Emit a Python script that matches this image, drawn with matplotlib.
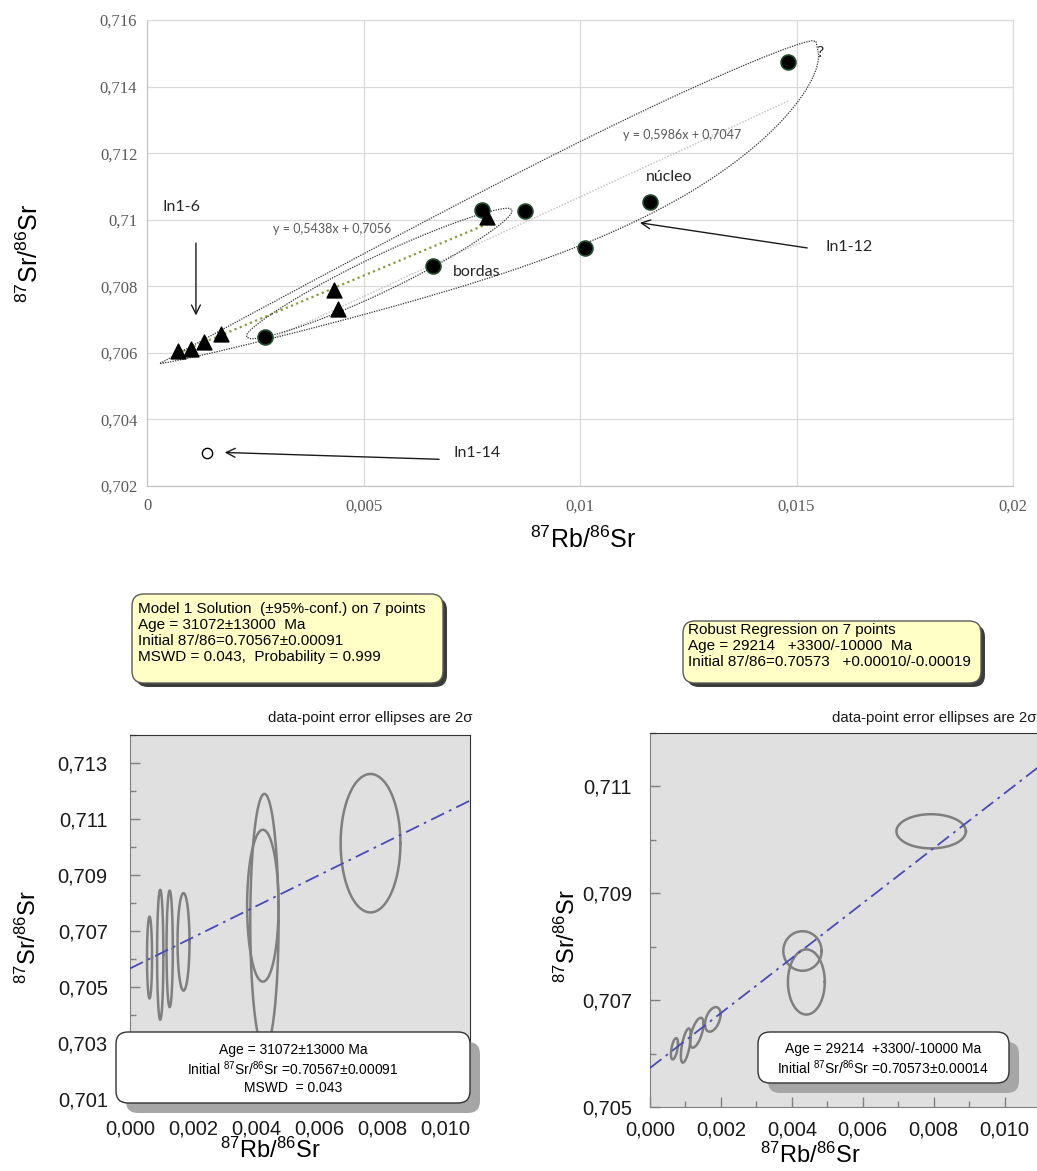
import numpy as np
import matplotlib.pyplot as plt
from matplotlib.patches import FancyBboxPatch
from matplotlib.ticker import MultipleLocator, FuncFormatter

plt.rcParams['font.family'] = ['Liberation Sans', 'DejaVu Sans']
plt.rcParams['mathtext.fontset'] = 'custom'
plt.rcParams['mathtext.rm'] = 'Liberation Sans'
plt.rcParams['mathtext.it'] = 'Liberation Sans:italic'

# ---- top chart data (Excel scatter) ----
circ_x = [0.00272, 0.00661, 0.00773, 0.00873, 0.01011, 0.01162, 0.01481]
circ_y = [0.70648, 0.70860, 0.71029, 0.71026, 0.70916, 0.71054, 0.71475]
tri_x = [0.00072, 0.00102, 0.00132, 0.00170, 0.00433, 0.00442, 0.00785]
tri_y = [0.70605, 0.70613, 0.70633, 0.70658, 0.70788, 0.70733, 0.71008]
open_x = [0.00139]
open_y = [0.70299]
trend_tri = (0.5438, 0.7056)
trend_circ = (0.5986, 0.7047)

# ---- isoplot model 1 (left) ----
m1_x = [0.00062, 0.00096, 0.00126, 0.00170, 0.00427, 0.00422, 0.00764]
m1_y = [0.70606, 0.70616, 0.70637, 0.70662, 0.70735, 0.70791, 0.71014]
m1_sx = [0.00008, 0.00010, 0.00010, 0.00019, 0.00045, 0.00050, 0.00095]
m1_sy = [0.00146, 0.00232, 0.00208, 0.00174, 0.00455, 0.00271, 0.00247]
m1_line = (0.5546, 0.70567)

# ---- isoplot robust regression (right) ----
m2_x = [0.00069, 0.00101, 0.00132, 0.00177, 0.00430, 0.00441, 0.00793]
m2_y = [0.70609, 0.70615, 0.70639, 0.70664, 0.70792, 0.70734, 0.71016]
m2_sx = [0.00010, 0.00014, 0.00019, 0.00022, 0.00054, 0.00052, 0.00098]
m2_sy = [0.00020, 0.00032, 0.00028, 0.00023, 0.00037, 0.00061, 0.00032]
m2_rho = [0.5, 0.6, 0.6, 0.4, 0.0, 0.0, 0.0]
m2_line = (0.5141, 0.70573)

W, H = 1037, 1171
fig = plt.figure(figsize=(W / 100, H / 100), dpi=100)


def pos(l, t, r, b):
    return [l / W, 1 - b / H, (r - l) / W, (b - t) / H]


def comma(fmt):
    return FuncFormatter(lambda v, p: (fmt % v).replace('.', ','))


def err_ellipse(ax, x, y, sx, sy, rho):
    t = np.linspace(0, 2 * np.pi, 200)
    ex = x + sx * np.cos(t)
    ey = y + sy * (rho * np.cos(t) + np.sqrt(1 - rho ** 2) * np.sin(t))
    ax.plot(ex, ey, color='#7f7f7f', lw=1.8, zorder=3)


def hand_loop(ax, p1, p2, up, down, peak=0.5):
    # closed loop drawn between two tips (data coords), widths in pixels
    a = ax.transData.transform(p1)
    b = ax.transData.transform(p2)
    d = b - a
    n = np.array([d[1], -d[0]]) / np.hypot(*d)   # normal pointing below the tip line
    s = np.linspace(0, 1, 200)
    g = np.log(0.5) / np.log(peak)
    prof = np.sqrt(np.clip(np.sin(np.pi * s ** g), 0, None))
    top = a + np.outer(s, d) - np.outer(up * prof, n)
    bot = a + np.outer(s, d) + np.outer(down * prof, n)
    pts = np.vstack([top, bot[::-1], top[:1]])
    pts = ax.transData.inverted().transform(pts)
    ax.plot(pts[:, 0], pts[:, 1], ls=(0, (1, 1)), color='#333333', lw=0.9, zorder=2)


# ================= top chart =================
ax = fig.add_axes(pos(147, 20, 1013, 486))
ax.set_xlim(0, 0.02)
ax.set_ylim(0.702, 0.716)
ax.xaxis.set_major_locator(MultipleLocator(0.005))
ax.yaxis.set_major_locator(MultipleLocator(0.002))
ax.xaxis.set_major_formatter(FuncFormatter(lambda v, p: '0' if abs(v) < 1e-12 else ('%g' % v).replace('.', ',')))
ax.yaxis.set_major_formatter(FuncFormatter(lambda v, p: ('%g' % round(v, 4)).replace('.', ',')))
ax.grid(True, color='#d9d9d9', lw=0.9)
ax.set_axisbelow(True)
for s in ax.spines.values():
    s.set_color('#d9d9d9')
ax.spines['left'].set_color('#bfbfbf')
ax.spines['bottom'].set_color('#bfbfbf')
ax.tick_params(length=0, labelsize=12, labelcolor='#595959')
ax.tick_params(axis='y', pad=7)
ax.tick_params(axis='x', pad=9)
for lab in ax.get_xticklabels() + ax.get_yticklabels():
    lab.set_family('Liberation Serif')

xs = np.array([min(tri_x), max(tri_x)])
ax.plot(xs, trend_tri[0] * xs + trend_tri[1], ls=(0, (1, 1.5)), color='#8c9a3c', lw=1.6, zorder=2)
xs = np.array([min(circ_x), max(circ_x)])
ax.plot(xs, trend_circ[0] * xs + trend_circ[1], ls=(0, (1, 1)), color='#c8c8c8', lw=1.1, zorder=2)

ax.scatter(circ_x, circ_y, s=115, c='black', edgecolors='#1f4a2e', lw=1.2, zorder=4)
ax.scatter(tri_x, tri_y, s=115, marker='^', c='black', zorder=4)
ax.scatter(open_x, open_y, s=55, facecolors='white', edgecolors='black', lw=1.0, zorder=4)

# hand drawn group outlines
hand_loop(ax, (0.00030, 0.70568), (0.01545, 0.71536), up=14, down=82, peak=0.68)
hand_loop(ax, (0.00230, 0.70648), (0.00843, 0.71030), up=17, down=19, peak=0.5)

lbl = dict(family=['Lato', 'DejaVu Sans'], fontsize=11.5, color='#262626')
ax.text(0.00035, 0.71038, 'In1-6', va='center', **lbl)
ax.text(0.00707, 0.70842, 'bordas', va='center', **lbl)
ax.text(0.01152, 0.71128, 'núcleo', va='center', **lbl)
ax.text(0.01545, 0.71501, '?', va='center', **lbl)
ax.text(0.01566, 0.70917, 'In1-12', va='center', **lbl)
ax.text(0.00707, 0.70298, 'In1-14', va='center', **lbl)
eq = dict(family=['Lato', 'DejaVu Sans'], fontsize=9, color='#595959')
ax.text(0.00427, 0.70971, 'y = 0,5438x + 0,7056', ha='center', va='center', **eq)
ax.text(0.01099, 0.71254, 'y = 0,5986x + 0,7047', va='center', **eq)

arw = dict(arrowstyle='->', lw=1.0, color='#1a1a1a', mutation_scale=16)
ax.annotate('', xy=(0.00113, 0.70704), xytext=(0.00113, 0.70938), arrowprops=arw)
ax.annotate('', xy=(0.01132, 0.70992), xytext=(0.01531, 0.70914), arrowprops=arw)
ax.annotate('', xy=(0.00173, 0.70301), xytext=(0.00681, 0.70280), arrowprops=arw)


# ================= bottom charts =================
def isoplot_axes(rect, xlim, ylim):
    a = fig.add_axes(rect)
    a.set_facecolor('#e0e0e0')
    a.set_xlim(*xlim)
    a.set_ylim(*ylim)
    a.xaxis.set_major_locator(MultipleLocator(0.002))
    a.xaxis.set_minor_locator(MultipleLocator(0.001))
    a.yaxis.set_major_locator(MultipleLocator(0.002, offset=0.001))
    a.yaxis.set_minor_locator(MultipleLocator(0.001))
    a.xaxis.set_major_formatter(comma('%.3f'))
    a.yaxis.set_major_formatter(comma('%.3f'))
    a.tick_params(which='both', direction='in', color='#808080', width=1)
    a.tick_params(which='major', length=7, labelsize=14.5, labelcolor='#1a1a1a')
    a.tick_params(which='minor', length=4)
    a.spines['top'].set_color('#333333')
    a.spines['right'].set_color('#333333')
    a.spines['left'].set_color('#808080')
    a.spines['bottom'].set_color('#808080')
    return a


# left: Model 1
axl = isoplot_axes(pos(130, 735, 470, 1105), (0, 0.0108), (0.7008, 0.714))
axl.tick_params(axis='y', pad=16)
axl.tick_params(axis='x', pad=10.5)
for i in range(len(m1_x)):
    err_ellipse(axl, m1_x[i], m1_y[i], m1_sx[i], m1_sy[i], 0.0)
xs = np.array(axl.get_xlim())
axl.plot(xs, m1_line[0] * xs + m1_line[1], color='#4a4ab4', lw=1.3, dashes=(8, 3, 1.5, 3), zorder=4)

# right: robust regression
axr = isoplot_axes(pos(650, 733, 1040, 1107), (0, 0.011), (0.705, 0.712))
axr.spines['right'].set_visible(False)
axr.tick_params(axis='y', pad=13)
axr.tick_params(axis='x', pad=10)
for i in range(len(m2_x)):
    err_ellipse(axr, m2_x[i], m2_y[i], m2_sx[i], m2_sy[i], m2_rho[i])
xs = np.array(axr.get_xlim())
axr.plot(xs, m2_line[0] * xs + m2_line[1], color='#4a4ab4', lw=1.3, dashes=(8, 3, 1.5, 3), zorder=4)

# ================= overlay (pixel coordinates) =================
ov = fig.add_axes([0, 0, 1, 1])
ov.set_xlim(0, W)
ov.set_ylim(H, 0)
ov.axis('off')
ov.patch.set_alpha(0)

sr_lab = r'$^{87}$Sr/$^{86}$Sr'
rb_lab = r'$^{87}$Rb/$^{86}$Sr'
ov.text(583, 540, rb_lab, fontsize=18, ha='center', va='center')
ov.text(30, 253, sr_lab, fontsize=18, ha='center', va='center', rotation=90)
ov.text(270, 1150, rb_lab, fontsize=17, ha='center', va='center')
ov.text(28, 937, sr_lab, fontsize=17, ha='center', va='center', rotation=90)
ov.text(810, 1155, rb_lab, fontsize=17, ha='center', va='center')
ov.text(567, 936, sr_lab, fontsize=17, ha='center', va='center', rotation=90)

ov.text(473, 718, 'data-point error ellipses are 2σ', fontsize=10.8, ha='right', va='center', color='#1a1a1a')
ov.text(832, 718, 'data-point error ellipses are 2σ', fontsize=10.8, ha='left', va='center', color='#1a1a1a')


def rbox(l, t, r, b, fc, ec, shadow, off, rs):
    ov.add_patch(FancyBboxPatch((l + off, t + off), r - l, b - t,
                                boxstyle='round,pad=0,rounding_size=%g' % rs,
                                fc=shadow, ec='none', zorder=5))
    ov.add_patch(FancyBboxPatch((l, t), r - l, b - t,
                                boxstyle='round,pad=0,rounding_size=%g' % rs,
                                fc=fc, ec=ec, lw=1.0, zorder=6))


# yellow result boxes
rbox(132, 594, 443, 683, '#ffffc6', '#5a5a5a', '#3c3c3c', 4, 12)
ov.text(138, 602, 'Model 1 Solution  (±95%-conf.) on 7 points\nAge = 31072±13000  Ma\n'
        'Initial 87/86=0.70567±0.00091\nMSWD = 0.043,  Probability = 0.999',
        fontsize=11, va='top', ha='left', linespacing=1.17, zorder=7)
rbox(683, 621, 981, 683, '#ffffc6', '#5a5a5a', '#3c3c3c', 4, 12)
ov.text(688, 623, 'Robust Regression on 7 points\nAge = 29214   +3300/-10000  Ma\n'
        'Initial 87/86=0.70573   +0.00010/-0.00019',
        fontsize=11, va='top', ha='left', linespacing=1.17, zorder=7)

# white boxes on the plots
rbox(116, 1032, 470, 1103, 'white', '#333333', '#a6a6a6', 10, 12)
ov.text(293, 1050, 'Age = 31072±13000 Ma', fontsize=10, ha='center', va='center', zorder=7)
ov.text(293, 1069, r'Initial $^{87}$Sr/$^{86}$Sr =0.70567±0.00091', fontsize=10, ha='center', va='center', zorder=7)
ov.text(293, 1088, 'MSWD  = 0.043', fontsize=10, ha='center', va='center', zorder=7)
rbox(758, 1032, 1009, 1083, 'white', '#333333', '#a6a6a6', 10, 12)
ov.text(883, 1049, 'Age = 29214  +3300/-10000 Ma', fontsize=10, ha='center', va='center', zorder=7)
ov.text(883, 1068, r'Initial $^{87}$Sr/$^{86}$Sr =0.70573±0.00014', fontsize=10, ha='center', va='center', zorder=7)

fig.savefig('out.png', dpi=100)
